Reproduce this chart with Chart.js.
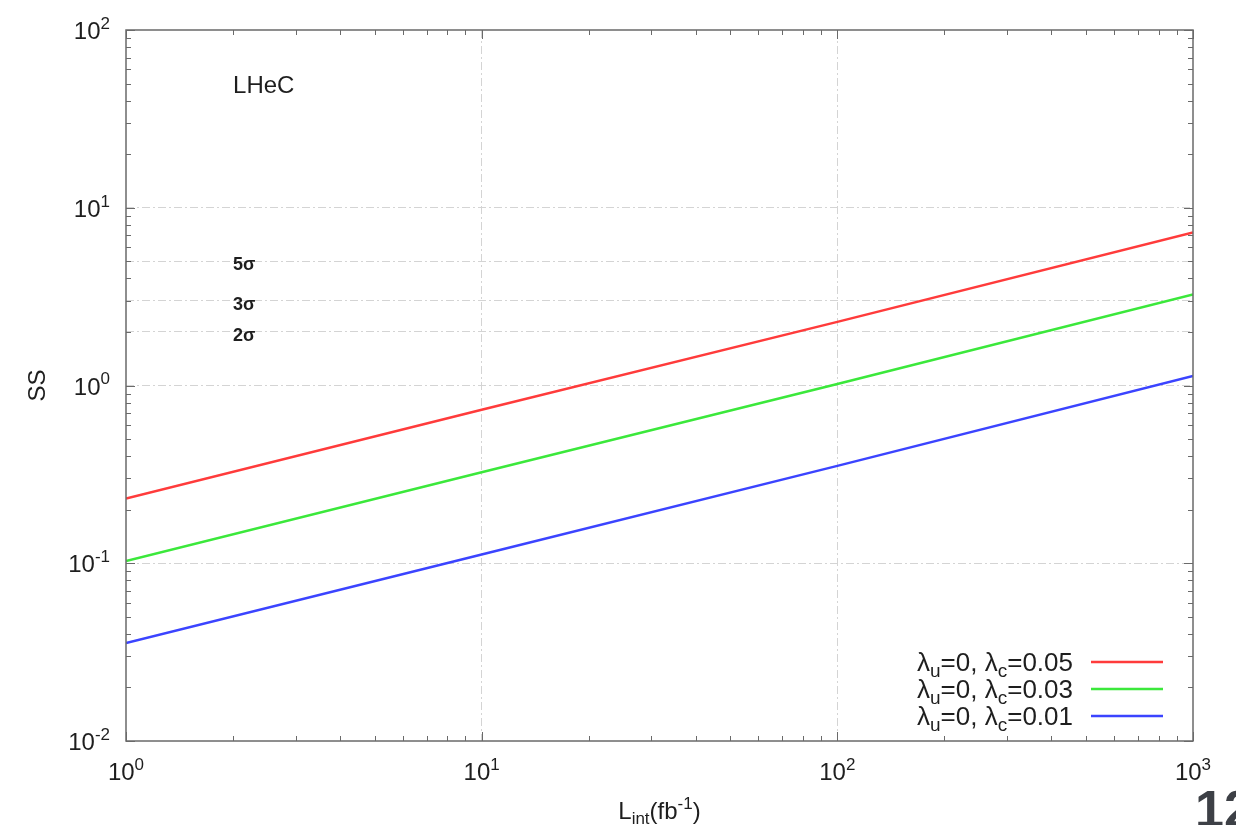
<!DOCTYPE html>
<html>
<head>
<meta charset="utf-8">
<script src="https://cdn.jsdelivr.net/npm/chart.js@4"></script>
<style>
  html, body { margin: 0; padding: 0; background: #fff; overflow: hidden; }
  #wrap { position: relative; width: 1236px; height: 825px; overflow: hidden; }
  #page-no { position: absolute; left: 1195px; top: 779px; font: bold 52px "Liberation Sans", Arial, sans-serif; color: #3d4046; }
</style>
</head>
<body>
<div id="wrap">
  <canvas id="ssChart" width="1236" height="825"></canvas>
  <div id="page-no">12</div>
</div>
<script>
// values
const lumi = [1, 10, 100, 1000];
const ssC005 = [0.231, 0.73, 2.28, 7.25];
const ssC003 = [0.103, 0.325, 1.02, 3.25];
const ssC001 = [0.0356, 0.112, 0.353, 1.13];
const lambdaC = ['0.05', '0.03', '0.01'];
const lineColors = ['#ff3b3b', '#3be83b', '#3b44ff'];

const xMajors = [1, 10, 100, 1000];
const yMajors = [0.01, 0.1, 1, 10, 100];
const minorSteps = [2, 3, 4, 5, 6, 7, 8, 9];
const sigmaLevels = [5, 3, 2];
const sigmaLabels = ['5σ', '3σ', '2σ'];

const FONT = '"Liberation Sans", Arial, Helvetica, sans-serif';
const TEXT = '#1e1e1e';

function pts(ys) {
    return lumi.map((x, i) => ({ x: x, y: ys[i] }));
}

function minorsFor(majors) {
    const out = [];
    for (let i = 0; i < majors.length - 1; i++) {
        minorSteps.forEach(m => out.push(majors[i] * m));
    }
    return out;
}

// parts: [text, mode] mode 0 normal, 1 superscript, -1 subscript
function supText(ctx, parts, x, y, align, size, ratio) {
    const small = Math.round(size * (ratio || 0.68));
    let w = 0;
    parts.forEach(p => {
        ctx.font = (p[1] ? small : size) + 'px ' + FONT;
        w += ctx.measureText(p[0]).width;
    });
    let cx = align === 'center' ? x - w / 2 : (align === 'right' ? x - w : x);
    ctx.textAlign = 'left';
    ctx.textBaseline = 'alphabetic';
    parts.forEach(p => {
        ctx.font = (p[1] ? small : size) + 'px ' + FONT;
        let dy = 0;
        if (p[1] === 1) dy = -size * 0.42;
        if (p[1] === -1) dy = size * 0.22;
        ctx.fillText(p[0], cx, y + dy);
        cx += ctx.measureText(p[0]).width;
    });
}

function expStr(v) {
    return String(Math.round(Math.log10(v)));
}

const decor = {
    id: 'decor',
    afterDatasetsDraw(chart) {
        const ctx = chart.ctx;
        const a = chart.chartArea;
        const xs = chart.scales.x;
        const ys = chart.scales.y;
        ctx.save();

        // frame
        ctx.strokeStyle = '#6a6a6a';
        ctx.lineWidth = 1.5;
        ctx.strokeRect(a.left, a.top, a.right - a.left, a.bottom - a.top);

        // inward ticks on all four sides
        ctx.lineWidth = 1;
        ctx.beginPath();
        const tickX = (v, len) => {
            const px = Math.round(xs.getPixelForValue(v)) + 0.5;
            ctx.moveTo(px, a.bottom); ctx.lineTo(px, a.bottom - len);
            ctx.moveTo(px, a.top); ctx.lineTo(px, a.top + len);
        };
        const tickY = (v, len) => {
            const py = Math.round(ys.getPixelForValue(v)) + 0.5;
            ctx.moveTo(a.left, py); ctx.lineTo(a.left + len, py);
            ctx.moveTo(a.right, py); ctx.lineTo(a.right - len, py);
        };
        xMajors.forEach(v => tickX(v, 9));
        minorsFor(xMajors).forEach(v => tickX(v, 5));
        yMajors.forEach(v => tickY(v, 9));
        minorsFor(yMajors).forEach(v => tickY(v, 5));
        ctx.stroke();

        ctx.fillStyle = TEXT;
        xMajors.forEach(v => {
            supText(ctx, [['10', 0], [expStr(v), 1]], xs.getPixelForValue(v), a.bottom + 39, 'center', 24, 0.72);
        });
        yMajors.forEach(v => {
            supText(ctx, [['10', 0], [expStr(v), 1]], a.left - 16, ys.getPixelForValue(v) + 9, 'right', 24, 0.72);
        });

        // axis titles
        supText(ctx, [['L', 0], ['int', -1], ['(fb', 0], ['-1', 1], [')', 0]], (a.left + a.right) / 2, 819, 'center', 24, 0.72);
        ctx.save();
        ctx.translate(38, (a.top + a.bottom) / 2);
        ctx.rotate(-Math.PI / 2);
        ctx.font = '24px ' + FONT;
        ctx.textAlign = 'center';
        ctx.textBaseline = 'middle';
        ctx.fillText('SS', 0, 0);
        ctx.restore();

        // annotations
        ctx.font = '24px ' + FONT;
        ctx.textAlign = 'left';
        ctx.textBaseline = 'middle';
        ctx.fillText('LHeC', xs.getPixelForValue(2), ys.getPixelForValue(48));
        ctx.font = '600 18px ' + FONT;
        sigmaLevels.forEach((s, i) => {
            ctx.fillText(sigmaLabels[i], xs.getPixelForValue(2), ys.getPixelForValue(s) + 4);
        });

        // legend
        const rowY = [662, 689, 716];
        lambdaC.forEach((c, i) => {
            ctx.fillStyle = TEXT;
            supText(ctx, [['λ', 0], ['u', -1], ['=0, λ', 0], ['c', -1], ['=' + c, 0]], 1073, rowY[i] + 9, 'right', 26, 0.74);
            ctx.strokeStyle = lineColors[i];
            ctx.lineWidth = 2.5;
            ctx.beginPath();
            ctx.moveTo(1091, rowY[i]);
            ctx.lineTo(1163, rowY[i]);
            ctx.stroke();
        });

        ctx.restore();
    }
};

const gridVals = {
    x: [10, 100],
    y: [0.1, 1, 10].concat(sigmaLevels)
};

function gridScale(axis, min, max, fitSize) {
    return {
        type: 'logarithmic',
        min: min,
        max: max,
        afterBuildTicks: s => { s.ticks = gridVals[axis].map(v => ({ value: v })); },
        afterFit: s => {
            if (axis === 'x') s.height = fitSize; else s.width = fitSize;
        },
        ticks: { display: false },
        grid: { color: '#d4d4d4', lineWidth: 1, drawTicks: false },
        border: { display: false, dash: [8, 3, 2, 3] }
    };
}

new Chart(document.getElementById('ssChart'), {
    type: 'line',
    data: {
        datasets: [
            { label: 'λu=0, λc=' + lambdaC[0], data: pts(ssC005), borderColor: lineColors[0] },
            { label: 'λu=0, λc=' + lambdaC[1], data: pts(ssC003), borderColor: lineColors[1] },
            { label: 'λu=0, λc=' + lambdaC[2], data: pts(ssC001), borderColor: lineColors[2] }
        ]
    },
    options: {
        responsive: false,
        animation: false,
        devicePixelRatio: 1,
        layout: { padding: { top: 30, right: 43, left: 0, bottom: 0 } },
        elements: {
            line: { borderWidth: 2.5, tension: 0, fill: false },
            point: { radius: 0 }
        },
        plugins: {
            legend: { display: false },
            tooltip: { enabled: false }
        },
        scales: {
            x: gridScale('x', 1, 1000, 84),
            y: gridScale('y', 0.01, 100, 126)
        }
    },
    plugins: [decor]
});
</script>
</body>
</html>
